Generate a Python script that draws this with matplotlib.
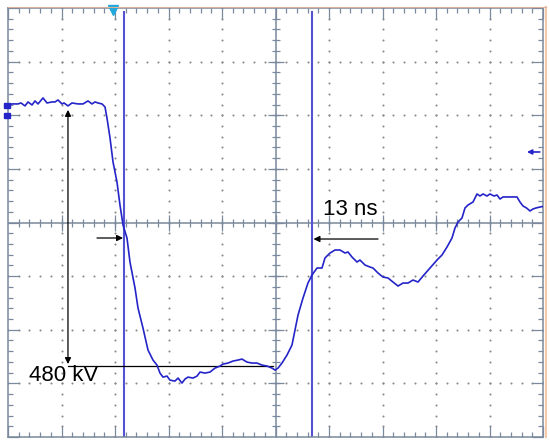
from matplotlib import pyplot as plt
import matplotlib as mpl
import matplotlib.patches as patches
from matplotlib.lines import Line2D
import numpy as np

########################################################################
#STYLE
mpl.rcParams['font.family'] = ['Liberation Sans', 'DejaVu Sans']
mpl.rcParams['font.size'] = 16
########################################################################

# scope trace in divisions (10 x 8, 0 = centre line)
t = [0.0, 0.075, 0.187, 0.243, 0.318, 0.374, 0.449, 0.505, 0.561, 0.654,
     0.729, 0.822, 0.879, 0.935, 1.009, 1.047, 1.121, 1.196, 1.308, 1.402,
     1.495, 1.57, 1.626, 1.682, 1.757, 1.813,
     1.85, 1.907, 1.963, 2.037, 2.093, 2.15, 2.224, 2.28, 2.374, 2.43,
     2.523, 2.617, 2.71, 2.785, 2.841, 2.897, 2.972, 3.028, 3.121, 3.178,
     3.252, 3.308, 3.364, 3.458, 3.533, 3.589, 3.682, 3.776, 3.869, 3.963,
     4.019, 4.112, 4.206, 4.299, 4.374, 4.467, 4.561, 4.654, 4.748, 4.841,
     4.935, 4.991, 5.047, 5.121, 5.215, 5.308, 5.421, 5.514, 5.607, 5.682,
     5.776, 5.869, 5.925, 6.019, 6.112, 6.206, 6.299, 6.355, 6.43, 6.523,
     6.579, 6.673, 6.766, 6.822, 6.916, 7.009, 7.103, 7.196, 7.29, 7.383,
     7.477, 7.57, 7.664, 7.757, 7.888, 8.019, 8.112, 8.206, 8.299, 8.355,
     8.411, 8.486, 8.542, 8.598, 8.692, 8.766, 8.822, 8.879, 8.953, 9.009,
     9.084, 9.14, 9.196, 9.252, 9.514, 9.57, 9.626, 9.692, 9.757, 9.813,
     9.869, 9.944, 10.0]
v = [2.192, 2.211, 2.211, 2.229, 2.174, 2.248, 2.192, 2.267, 2.211, 2.323,
     2.229, 2.248, 2.248, 2.285, 2.211, 2.229, 2.174, 2.229, 2.211, 2.211,
     2.267, 2.211, 2.248, 2.229, 2.211, 2.155,
     1.95, 1.576, 1.128, 0.755, 0.326, -0.047, -0.289, -0.737, -1.222, -1.595,
     -1.968, -2.379, -2.565, -2.659, -2.808, -2.883, -2.864, -2.94, -2.957, -2.901,
     -2.994, -2.92, -2.883, -2.901, -2.864, -2.789, -2.808, -2.789, -2.715, -2.677,
     -2.64, -2.621, -2.584, -2.565, -2.547, -2.603, -2.621, -2.621, -2.659, -2.677,
     -2.715, -2.752, -2.715, -2.621, -2.472, -2.285, -1.726, -1.409, -1.129, -0.979,
     -0.849, -0.849, -0.662, -0.569, -0.513, -0.513, -0.569, -0.55, -0.644, -0.737,
     -0.7, -0.793, -0.83, -0.849, -0.942, -1.017, -1.035, -1.11, -1.185, -1.129,
     -1.129, -1.073, -1.11, -0.998, -0.849, -0.7, -0.606, -0.457, -0.289, -0.103,
     0.009, 0.084, 0.271, 0.326, 0.382, 0.532, 0.494, 0.532, 0.494, 0.532,
     0.494, 0.513, 0.438, 0.476, 0.476, 0.382, 0.308, 0.271, 0.215, 0.252,
     0.271, 0.289, 0.3]

# time cursors (div)
cursors = [2.16, 5.69]

# labels
amp_label = '480 kV'
dt_label = '13 ns'

frame = '#7a899d'
trace_c = '#2424c8'
cursor_c = '#5252d2'

f = plt.figure(figsize=(5.5, 4.47), dpi=100)
ax = f.add_axes([8/550, 10/447, 535/550, 429/447])
ax.set_xlim(0, 10)
ax.set_ylim(-4, 4)

# border ticks
ax.set_xticks(range(0, 11))
ax.set_yticks(range(-4, 5))
ax.set_xticks(np.arange(0, 10.01, 0.2), minor=True)
ax.set_yticks(np.arange(-4, 4.01, 0.2), minor=True)
ax.tick_params(which='both', direction='in', top=True, right=True,
               labelbottom=False, labelleft=False, color=frame, width=0.9)
ax.tick_params(which='major', length=7.8)
ax.tick_params(which='minor', length=3.6)
for s in ax.spines.values():
    s.set_color(frame)
    s.set_linewidth(1.1)

# dotted graticule
for gx in range(1, 10):
    if gx == 5:
        continue
    yy = np.arange(-4, 4.01, 0.2)
    ax.scatter([gx]*len(yy), yy, s=2.2, color='#8a8a8a', linewidths=0, zorder=1)
for gy in range(-3, 4):
    if gy == 0:
        continue
    xx = np.arange(0, 10.01, 0.2)
    ax.scatter(xx, [gy]*len(xx), s=2.2, color='#8a8a8a', linewidths=0, zorder=1)

# centre axes with cross ticks
ax.axhline(0, color=frame, lw=1.1, zorder=1)
ax.axvline(5, color=frame, lw=1.1, zorder=1)
xm = np.arange(0.2, 9.9, 0.2)
ym = np.arange(-3.8, 3.9, 0.2)
ax.plot(xm, [0]*len(xm), '|', ms=5.8, mew=0.9, color=frame, zorder=1)
ax.plot([5]*len(ym), ym, '_', ms=5.8, mew=0.9, color=frame, zorder=1)
ax.plot(range(1, 10), [0]*9, '|', ms=11.5, mew=0.9, color=frame, zorder=1)
ax.plot([5]*7, range(-3, 4), '_', ms=11.5, mew=0.9, color=frame, zorder=1)

# cursors
for c in cursors:
    ax.plot([c, c], [3.93, -3.98], color=cursor_c, lw=1.5, zorder=2)

# trace
ax.plot(t, v, color=trace_c, lw=1.2, zorder=3)

# markers on the screen edges
ax.plot(1.963, 3.96, marker='v', ms=7, color='#1ea8dc', clip_on=False, zorder=4)
ax.add_patch(patches.Rectangle((-0.075, 2.13), 0.12, 0.105, color=trace_c,
                               clip_on=False, zorder=4))
ax.add_patch(patches.Rectangle((-0.075, 1.94), 0.12, 0.10, color=trace_c,
                               clip_on=False, zorder=4))
ax.annotate('', xy=(9.70, 1.315), xytext=(9.94, 1.315),
            arrowprops=dict(arrowstyle='-|>', color=trace_c, lw=1.2,
                            mutation_scale=7, shrinkA=0, shrinkB=0))

# amplitude measurement
ax.annotate('', xy=(1.121, 2.10), xytext=(1.121, -2.64),
            arrowprops=dict(arrowstyle='<|-|>', color='k', lw=0.9,
                            mutation_scale=9, shrinkA=0, shrinkB=0))
ax.plot([1.121, 4.95], [-2.68, -2.68], color='k', lw=0.9, zorder=2)
ax.text(0.40, -2.845, amp_label, ha='left', va='center', fontsize=16)

# time measurement
ax.annotate('', xy=(2.15, -0.289), xytext=(1.664, -0.289),
            arrowprops=dict(arrowstyle='-|>', color='k', lw=0.9,
                            mutation_scale=9, shrinkA=0, shrinkB=0))
ax.annotate('', xy=(5.71, -0.308), xytext=(6.916, -0.308),
            arrowprops=dict(arrowstyle='-|>', color='k', lw=0.9,
                            mutation_scale=9, shrinkA=0, shrinkB=0))
ax.text(5.888, 0.243, dt_label, ha='left', va='center', fontsize=16)

# faint orange screenshot edge
f.add_artist(Line2D([545.5/550, 545.5/550], [10/447, 440/447], color='#f6c9a6', lw=1.5))
f.add_artist(Line2D([8/550, 546/550], [440/447, 440/447], color='#d9b09a', lw=0.8))

plt.savefig('out.png', dpi=100)
